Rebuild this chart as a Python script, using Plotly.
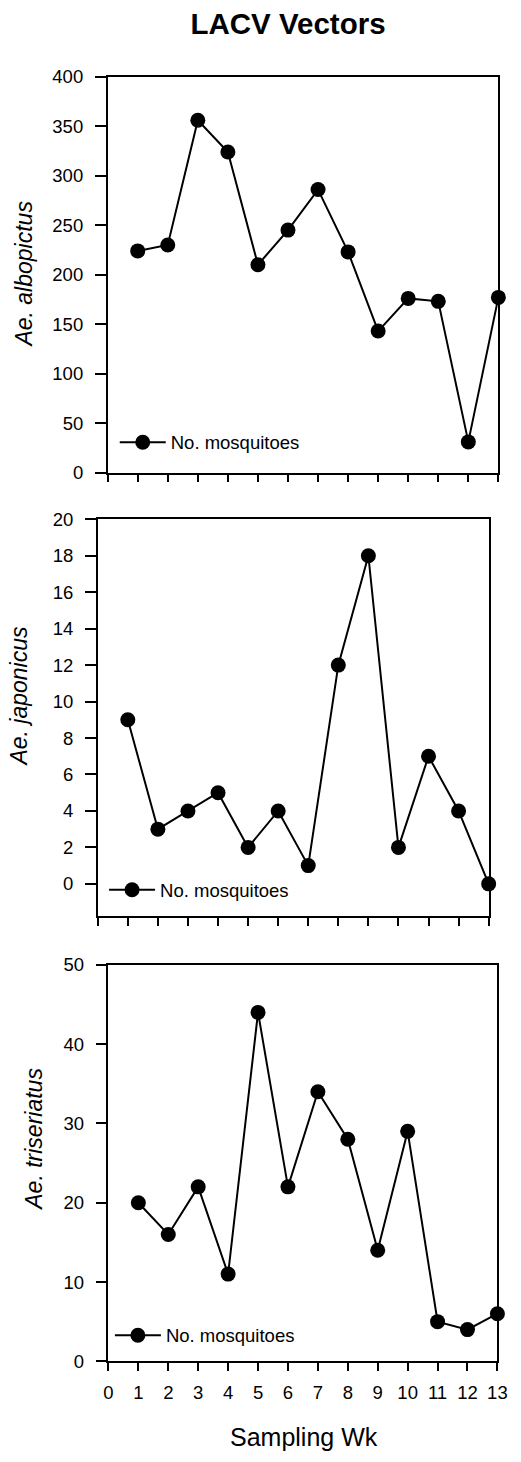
import plotly.graph_objects as go

weeks = list(range(1, 14))
albopictus = [224, 230, 356, 324, 210, 245, 286, 223, 143, 176, 173, 31, 177]
japonicus = [9, 3, 4, 5, 2, 4, 1, 12, 18, 2, 7, 4, 0]
triseriatus = [20, 16, 22, 11, 44, 22, 34, 28, 14, 29, 5, 4, 6]
x_ticks = list(range(0, 14))
series_name = "No. mosquitoes"
titles = ["Ae. albopictus", "Ae. japonicus", "Ae. triseriatus"]

W, H = 521, 1462
FONT = "Liberation Sans, Arial, Helvetica, sans-serif"

def px_x(v):
    return v / W

def px_y(v):
    return 1 - v / H

fig = go.Figure()

panels = [
    dict(data=albopictus, xd=(105.7, 508), yd=(66.7, 468.3), yr=[0, 400], dt=50,
         leg=(113, 438), title=titles[0], tx=20, ty=267, labels=False),
    dict(data=japonicus, xd=(95.5, 498), yd=(515.7, 918.3), yr=[-1.77, 20], dt=2,
         leg=(102, 892), title=titles[1], tx=14, ty=695, labels=False),
    dict(data=triseriatus, xd=(106.5, 507), yd=(967.7, 1370), yr=[0, 50], dt=10,
         leg=(108, 1344), title=titles[2], tx=29, ty=1145, labels=True),
]

layout = {}
for i, p in enumerate(panels, start=1):
    sfx = "" if i == 1 else str(i)
    legname = "legend" if i == 1 else f"legend{i}"
    fig.add_trace(go.Scatter(
        x=weeks, y=p["data"], mode="lines+markers", name=series_name,
        line=dict(color="black", width=2),
        marker=dict(color="black", size=15),
        xaxis=f"x{sfx}", yaxis=f"y{sfx}", legend=legname, cliponaxis=False,
        showlegend=True,
    ))
    layout[f"xaxis{sfx}"] = dict(
        domain=[px_x(p["xd"][0]), px_x(p["xd"][1])], range=[0, 13],
        anchor=f"y{sfx}", tickmode="array", tickvals=x_ticks,
        ticktext=[str(t) for t in x_ticks], showticklabels=p["labels"],
        ticks="outside", ticklen=8, tickwidth=1.5, tickcolor="black",
        showline=True, linecolor="black", linewidth=1.5, mirror=True,
        showgrid=False, zeroline=False,
        tickfont=dict(family=FONT, size=18.5, color="black"),
        ticklabelstandoff=6,
    )
    yt = [v for v in range(0, int(p["yr"][1]) + 1, p["dt"])]
    layout[f"yaxis{sfx}"] = dict(
        domain=[px_y(p["yd"][1]), px_y(p["yd"][0])], range=p["yr"],
        anchor=f"x{sfx}", tickmode="array", tickvals=yt,
        ticks="outside", ticklen=11, tickwidth=1.5, tickcolor="black",
        showline=True, linecolor="black", linewidth=1.5, mirror=True,
        showgrid=False, zeroline=False,
        tickfont=dict(family=FONT, size=18.5, color="black"),
        ticklabelstandoff=8,
    )
    layout[legname] = dict(
        x=px_x(p["leg"][0]), y=px_y(p["leg"][1]), xanchor="left", yanchor="middle",
        bgcolor="rgba(0,0,0,0)", borderwidth=0, itemwidth=46,
        font=dict(family=FONT, size=18.5, color="black"),
    )
    fig.add_annotation(
        text=p["title"], x=px_x(p["tx"]), y=px_y(p["ty"]), xref="paper", yref="paper",
        xanchor="center", yanchor="middle", textangle=-90, showarrow=False,
        font=dict(family=FONT, size=23, color="black", style="italic"),
    )

fig.add_annotation(
    text="Sampling Wk", x=px_x(308), y=px_y(1447), xref="paper", yref="paper",
    xanchor="center", yanchor="middle", showarrow=False,
    font=dict(family=FONT, size=25, color="black"),
)

fig.update_layout(
    width=W, height=H, margin=dict(l=0, r=0, t=0, b=0),
    paper_bgcolor="white", plot_bgcolor="white",
    title=dict(text="LACV Vectors", x=px_x(288), y=px_y(24), xanchor="center",
               yanchor="middle", font=dict(family=FONT, size=29.5, color="black", weight="bold")),
    showlegend=True,
    **layout,
)

fig.write_html("out.html")
